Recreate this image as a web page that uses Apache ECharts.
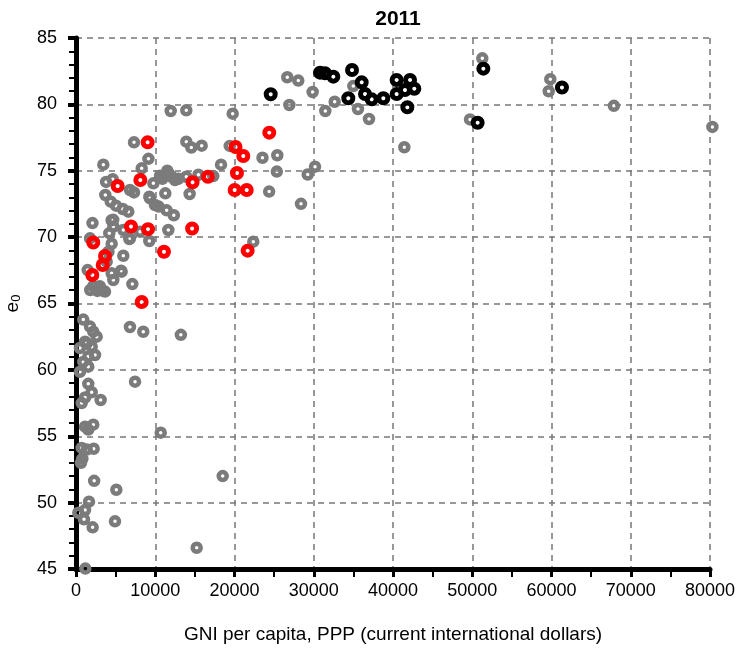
<!DOCTYPE html>
<html>
<head>
<meta charset="utf-8">
<script src="https://cdn.jsdelivr.net/npm/echarts@6/dist/echarts.min.js"></script>
<style>html,body{margin:0;padding:0;background:#fff}#c{width:737px;height:650px}</style>
</head>
<body>
<div id="c"></div>
<script>
var titleText = '2011';
var xName = 'GNI per capita, PPP (current international dollars)';
var xTicks = [0, 10000, 20000, 30000, 40000, 50000, 60000, 70000, 80000];
var yTicks = [45, 50, 55, 60, 65, 70, 75, 80, 85];

var grayPts = [
[26660,82.04],[28050,81.79],[29860,80.93],[26920,79.95],[31460,79.5],[32640,80.2],[34990,81.38],[35580,79.65],[36970,78.9],[41430,76.77],
[23530,75.98],[25400,76.17],[25340,74.94],[24370,73.43],[29240,74.72],[30160,75.31],[28390,72.51],[51270,83.47],[49720,78.87],[59850,81.9],
[59650,80.99],[67870,79.89],[80300,78.3],
[11950,79.5],[13920,79.55],[19770,79.3],[7320,77.14],[13920,77.19],[14550,76.75],[15860,76.89],[19400,76.87],[18300,75.46],[3450,75.46],
[9140,75.9],[8290,75.18],[3800,74.16],[4630,74.36],[10600,74.63],[11520,75.0],[12070,74.55],[12490,74.3],[13920,74.55],[15450,74.7],
[17320,74.6],[9760,74.05],[6810,73.55],[7320,73.37],[9250,73.05],[11270,73.3],[14340,73.25],[3700,73.17],[4380,72.67],[5050,72.37],
[5890,72.12],[6600,71.92],[9340,72.92],[9970,72.42],[10430,72.3],[11440,72.02],[12340,71.65],[2080,71.06],[4500,71.27],[4710,70.8],
[5970,70.54],[8080,70.41],[11650,70.54],[22370,69.66],[10900,74.4],[11700,74.8],[12900,74.4],
[1770,69.91],[4500,69.5],[4100,68.9],[3870,68.15],[6730,69.86],[9250,69.71],[6810,69.91],[5970,68.6],[5680,67.47],[1470,67.52],
[7110,66.46],[4710,66.77],[4500,67.27],[5760,67.4],[1800,66.02],[3240,66.0],[3660,65.9],[2800,66.1],[2700,65.95],[3000,66.3],
[4200,70.3],[4700,71.3],[2180,66.3],
[920,63.79],[1770,63.26],[2180,62.88],[2610,62.5],[6810,63.23],[8490,62.87],[13230,62.64],[1140,62.12],[500,61.65],[1350,62.0],
[1980,61.75],[2400,61.12],[1550,61.0],[920,60.6],[1550,60.24],[500,59.86],[7450,59.11],[1550,58.95],[1980,58.32],[1140,57.92],
[720,57.5],[3110,57.73],[1140,55.72],[2180,55.87],[1550,55.5],[10690,55.27],[720,54.12],[1350,54.0],[2230,54.06],[800,53.3],
[630,53.0],[2290,51.64],[5090,50.97],[18510,52.0],[1640,50.07],[1140,49.44],[290,49.24],[1010,48.74],[2100,48.14],[4920,48.59],
[15230,46.6],[1180,45.03]
];

var redPts = [
[9040,77.14],[5260,73.85],[8120,74.3],[14710,74.13],[16650,74.55],[20130,76.79],[21110,76.11],[24390,77.87],[20310,74.83],[20020,73.55],
[21540,73.55],[6940,70.8],[9090,70.6],[14650,70.65],[2180,69.6],[3660,68.58],[3370,67.9],[2060,67.15],[11100,68.9],[21660,68.98],
[8290,65.11]
];

var blackPts = [
[24570,80.76],[30790,82.39],[31420,82.34],[32470,82.09],[34830,82.59],[36050,81.66],[36470,80.78],[34360,80.46],[37310,80.38],[38780,80.46],
[40460,81.84],[42150,81.84],[42690,81.18],[41510,81.08],[40460,80.78],[41810,79.78],[51400,82.69],[50680,78.62],[61320,81.27]
];

var FONT = 'Liberation Sans';
var chart = echarts.init(document.getElementById('c'), null, {renderer: 'canvas'});
function ring(color, size, bw) {
  return {symbol: 'circle', symbolSize: size, clip: false,
    itemStyle: {color: 'rgba(0,0,0,0)', borderColor: color, borderWidth: bw, opacity: 1}};
}
var g = ring('#7b7b7b', 8, 4.5);
var r = ring('#ff0000', 9, 5);
var b = ring('#000000', 9, 5);
chart.setOption({
  animation: false,
  backgroundColor: '#fff',
  title: {text: titleText, left: 393, top: 4, textAlign: 'center',
    textStyle: {fontFamily: FONT, fontWeight: 'bold', fontSize: 21, color: '#000'}},
  grid: {left: 76, right: 27, top: 38, bottom: 81, containLabel: false, outerBoundsMode: 'none'},
  xAxis: {
    type: 'value', min: xTicks[0], max: xTicks[xTicks.length - 1], interval: 10000,
    name: xName, nameLocation: 'middle', nameGap: 56,
    nameTextStyle: {fontFamily: FONT, fontSize: 19, color: '#000'},
    axisLine: {show: true, onZero: false, lineStyle: {color: '#000', width: 5}},
    axisTick: {show: true, inside: false, length: 8, lineStyle: {color: '#000', width: 3}},
    minorTick: {show: true, splitNumber: 2, length: 8, lineStyle: {color: '#000', width: 2}},
    axisLabel: {fontFamily: FONT, fontSize: 18, color: '#000', margin: 13,
      formatter: function (v) { return String(v); }},
    splitLine: {show: true, lineStyle: {color: '#777', width: 1.5, type: [6, 5]}}
  },
  yAxis: {
    type: 'value', min: yTicks[0], max: yTicks[yTicks.length - 1], interval: 5,
    name: '{a|e}{b|0}', nameLocation: 'middle', nameGap: 53, nameRotate: 90,
    nameTextStyle: {fontFamily: FONT, color: '#000',
      rich: {a: {fontFamily: FONT, fontSize: 19, color: '#000'},
             b: {fontFamily: FONT, fontSize: 13, color: '#000', verticalAlign: 'bottom', padding: [8, 0, 0, 0]}}},
    axisLine: {show: true, onZero: false, lineStyle: {color: '#000', width: 5}},
    axisTick: {show: true, inside: false, length: 8, lineStyle: {color: '#000', width: 4}},
    minorTick: {show: true, splitNumber: 5, length: 7, lineStyle: {color: '#000', width: 2}},
    axisLabel: {fontFamily: FONT, fontSize: 18, color: '#000', margin: 19,
      formatter: function (v) { return String(v); }},
    splitLine: {show: true, lineStyle: {color: '#777', width: 1.5, type: [6, 5]}}
  },
  series: [
    Object.assign({type: 'scatter', data: grayPts, z: 2}, g),
    Object.assign({type: 'scatter', data: redPts, z: 3}, r),
    Object.assign({type: 'scatter', data: blackPts, z: 4}, b)
  ]
});
</script>
</body>
</html>
